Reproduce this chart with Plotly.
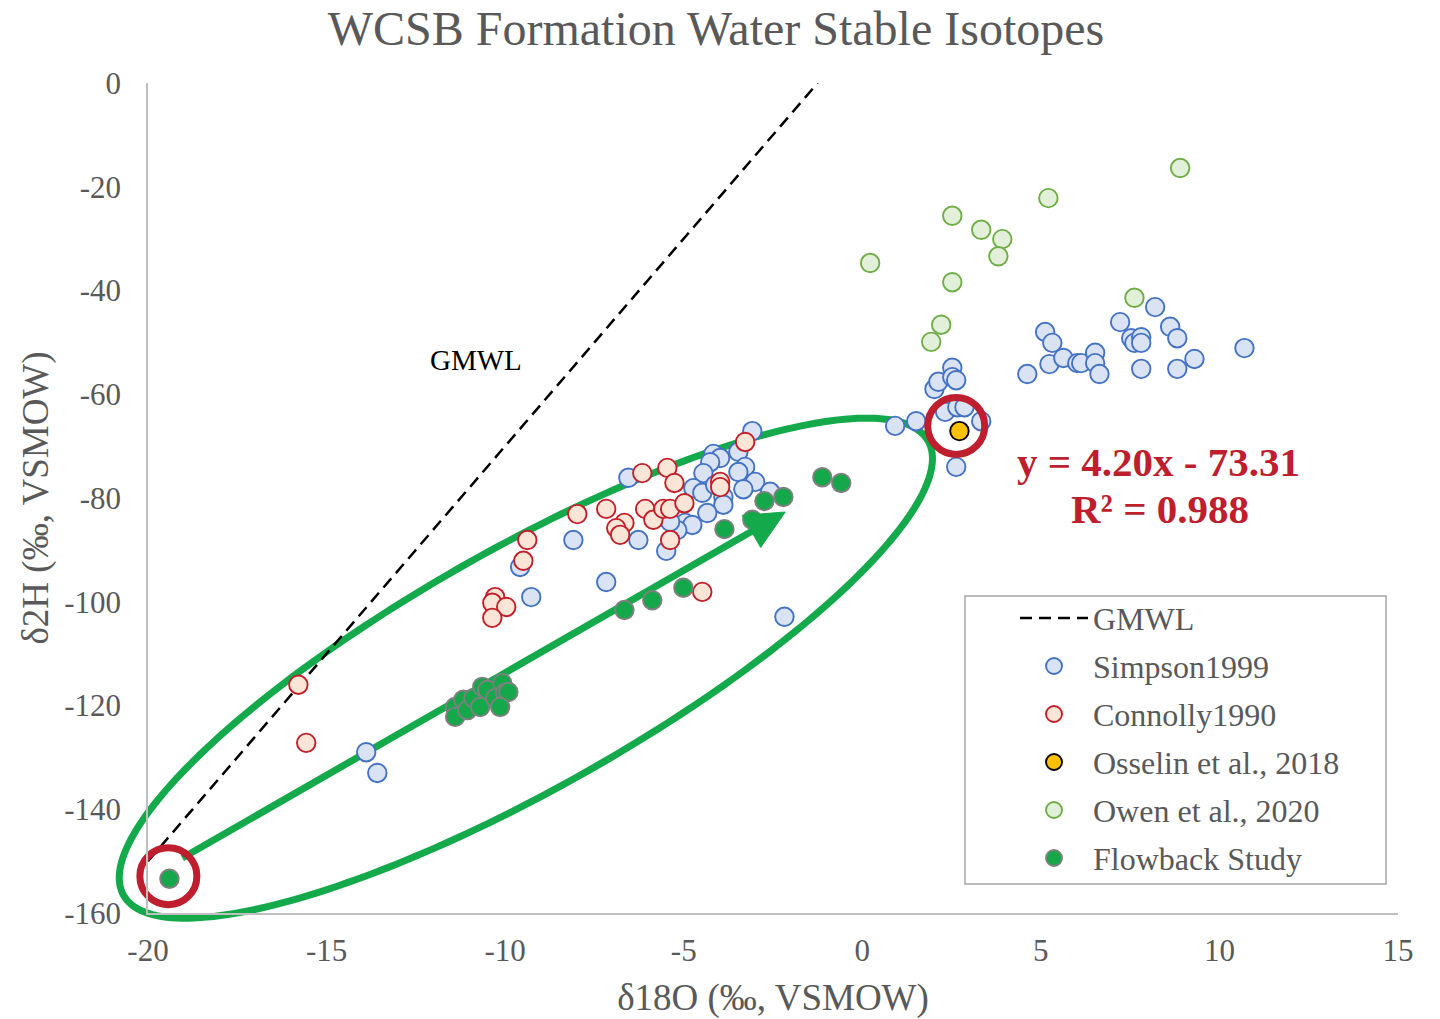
import math
import plotly.graph_objects as go

# ---------------- data ----------------
simpson_x = [-13.89, -13.58, -9.58, -9.27, -8.09, -7.17, -6.55, -6.27, -5.49, -3.08, -2.18,
             -4.17, -3.98, -4.26, -3.47, -3.28, -3.47, -4.45, -3.00, -2.58, -4.73, -4.48,
             -3.89, -3.89, -4.34, -4.96, -4.76, -5.18, -5.38, -3.33, -4.12,
             0.92, 1.51, 2.02, 2.13, 2.52, 2.52, 2.63, 2.32, 2.66, 2.86, 3.33, 2.63,
             4.62, 5.12, 5.32, 5.24, 5.63, 6.02, 6.13, 6.52, 6.52, 6.64, 7.22, 7.53,
             7.62, 7.81, 7.81, 7.81, 8.20, 8.62, 8.82, 8.82, 9.30, 10.70]
simpson_y = [-129.0, -133.0, -93.3, -99.1, -88.1, -96.2, -76.1, -88.1, -90.2, -67.1, -102.9,
             -71.5, -72.3, -73.1, -71.1, -74.0, -75.0, -75.2, -76.9, -78.8, -78.1, -79.0,
             -79.8, -81.3, -82.9, -84.8, -85.2, -86.2, -84.6, -78.3, -77.5,
             -66.1, -65.2, -59.0, -57.6, -54.9, -56.7, -57.3, -63.4, -62.5, -62.5, -65.2, -74.0,
             -56.1, -48.0, -50.1, -54.2, -53.0, -54.0, -54.0, -52.0, -54.0, -56.1, -46.1, -49.2,
             -50.1, -49.0, -50.1, -55.1, -43.2, -47.0, -49.2, -55.1, -53.2, -51.1]

connolly_x = [-15.79, -15.57, -9.38, -9.49, -10.28, -10.36, -9.97, -10.36, -7.98, -7.17,
              -6.16, -5.46, -5.26, -6.66, -6.89, -6.78, -6.08, -5.85, -5.57, -5.38,
              -4.98, -3.98, -3.98, -5.38, -4.48, -3.28]
connolly_y = [-116.0, -127.2, -88.1, -92.1, -99.1, -100.2, -101.0, -103.1, -83.1, -82.1,
              -75.2, -74.2, -77.1, -84.8, -85.8, -87.1, -82.1, -84.2, -82.1, -82.1,
              -81.0, -76.9, -77.9, -88.1, -98.1, -69.2]

osselin_x = [2.72]
osselin_y = [-67.1]

owen_x = [0.22, 2.52, 3.33, 3.92, 3.81, 5.21, 8.90, 2.52, 2.21, 1.93, 7.62]
owen_y = [-34.7, -25.6, -28.3, -30.1, -33.4, -22.2, -16.4, -38.4, -46.6, -49.9, -41.4]

flowback_x = [-19.40, -11.40, -11.40, -11.17, -11.06, -10.89, -10.70, -10.64, -10.50, -10.28,
              -10.08, -10.00, -9.91, -10.14, -6.66, -5.88, -5.01, -3.86, -3.08, -2.74,
              -2.21, -1.12, -0.59]
flowback_y = [-153.4, -120.3, -122.2, -118.9, -120.9, -118.6, -120.3, -116.4, -117.0, -118.6,
              -115.7, -117.6, -117.4, -120.3, -101.6, -99.7, -97.3, -86.0, -84.2, -80.6,
              -79.8, -76.0, -77.1]

# Global Meteoric Water Line: d2H = 8 * d18O + 10
GMWL_SLOPE = 8.0
GMWL_INTERCEPT = 10.0
gmwl_x = [-20.0, -1.25]

x_tick_vals = [-20, -15, -10, -5, 0, 5, 10, 15]
x_tick_text = ["-20", "-15", "-10", "-5", "0", "5", "10", "15"]
y_tick_vals = [0, -20, -40, -60, -80, -100, -120, -140, -160]
y_tick_text = ["0", "-20", "-40", "-60", "-80", "-100", "-120", "-140", "-160"]

fit_text_1 = "y = 4.20x - 73.31"
fit_text_2 = "R² = 0.988"

# ---------------- annotation geometry ----------------
ELL_CENTER = (-9.42, -112.8)      # data units
ELL_A_PX, ELL_B_PX, ELL_ANGLE = 462.0, 120.0, 29.45
ARROW_TAIL = (-19.04, -149.4)
ARROW_TIP = (-2.156, -82.70)
HEAD_LEN_PX, HEAD_W_PX = 39.0, 37.0
ring_x = [2.63, -19.43]
ring_y = [-66.1, -152.9]

# ---------------- layout constants ----------------
W, H = 1440, 1019
ML, MT = 148, 83
MR, MB = W - 1398, H - 913
X_RANGE = [-20, 15]
Y_RANGE = [-160, 0]
PLOT_W = W - ML - MR
PLOT_H = H - MT - MB
PX_X = PLOT_W / (X_RANGE[1] - X_RANGE[0])
PX_Y = PLOT_H / (Y_RANGE[1] - Y_RANGE[0])


def to_paper(x, y):
    return ((x - X_RANGE[0]) / (X_RANGE[1] - X_RANGE[0]),
            (y - Y_RANGE[0]) / (Y_RANGE[1] - Y_RANGE[0]))


def path_from(points, close=False):
    s = "M " + " L ".join("%.5f,%.5f" % to_paper(px, py) for px, py in points)
    return s + (" Z" if close else "")


GREEN = "#14AA4B"
RED = "#BE1E2D"
GRAY_TXT = "#595959"
FONT = "Liberation Serif, Times New Roman, serif"

fig = go.Figure()

# ellipse (hand-drawn highlight) as an unclipped paper shape
th = math.radians(ELL_ANGLE)
ell_pts = []
for i in range(240):
    t = 2 * math.pi * i / 240
    dx = ELL_A_PX * math.cos(t) * math.cos(th) - ELL_B_PX * math.sin(t) * math.sin(th)
    dy = ELL_A_PX * math.cos(t) * math.sin(th) + ELL_B_PX * math.sin(t) * math.cos(th)
    ell_pts.append((ELL_CENTER[0] + dx / PX_X, ELL_CENTER[1] + dy / PX_Y))
fig.add_shape(type="path", xref="paper", yref="paper", layer="below",
              path=path_from(ell_pts, close=True), line=dict(color=GREEN, width=7))

# arrow
dxp = (ARROW_TIP[0] - ARROW_TAIL[0]) * PX_X
dyp = (ARROW_TIP[1] - ARROW_TAIL[1]) * PX_Y
L = math.hypot(dxp, dyp)
ux, uy = dxp / L, dyp / L
base = (ARROW_TIP[0] - ux * HEAD_LEN_PX / PX_X, ARROW_TIP[1] - uy * HEAD_LEN_PX / PX_Y)
line_end = (ARROW_TIP[0] - ux * (HEAD_LEN_PX - 3) / PX_X,
            ARROW_TIP[1] - uy * (HEAD_LEN_PX - 3) / PX_Y)
fig.add_shape(type="path", xref="paper", yref="paper", layer="below",
              path=path_from([ARROW_TAIL, line_end]), line=dict(color=GREEN, width=7))
perp = (-uy * HEAD_W_PX / 2, ux * HEAD_W_PX / 2)
head = [ARROW_TIP,
        (base[0] + perp[0] / PX_X, base[1] + perp[1] / PX_Y),
        (base[0] - perp[0] / PX_X, base[1] - perp[1] / PX_Y)]
fig.add_shape(type="path", xref="paper", yref="paper", layer="above",
              path=path_from(head, close=True), fillcolor=GREEN,
              line=dict(color=GREEN, width=1))

# GMWL
fig.add_trace(go.Scatter(x=gmwl_x, y=[GMWL_SLOPE * v + GMWL_INTERCEPT for v in gmwl_x],
                         mode="lines", name="GMWL", legendgroup="g1",
                         line=dict(color="black", width=2.5, dash="12px,7px"), legendrank=1))

mk = dict(size=18.5)
series = [
    ("Simpson1999", simpson_x, simpson_y, "#DAE3F3", "#4472C4"),
    ("Connolly1990", connolly_x, connolly_y, "#FBE5D6", "#C41E2A"),
    ("Osselin et al., 2018", osselin_x, osselin_y, "#FFC000", "#000000"),
    ("Owen et al., 2020", owen_x, owen_y, "#E2F0D9", "#70AD47"),
    ("Flowback Study", flowback_x, flowback_y, "#14A84A", "#7F7F7F"),
]
for k, (name, xs, ys, fill, edge) in enumerate(series):
    fig.add_trace(go.Scatter(x=xs, y=ys, mode="markers", name=name, legendgroup="g%d" % (k + 2),
                             marker=dict(**mk, color=fill, line=dict(color=edge, width=1.9)),
                             legendrank=k + 2, cliponaxis=False))

# red rings
fig.add_trace(go.Scatter(x=ring_x, y=ring_y, mode="markers", showlegend=False, hoverinfo="skip",
                         cliponaxis=False,
                         marker=dict(symbol="circle-open", size=57, color=RED,
                                     line=dict(color=RED, width=7))))

axis_common = dict(showgrid=False, zeroline=False, showline=True, linecolor="#BFBFBF",
                   linewidth=1.5, ticks="", automargin=False,
                   tickfont=dict(family=FONT, size=31, color=GRAY_TXT))

fig.update_layout(
    width=W, height=H,
    margin=dict(l=ML, r=MR, t=MT, b=MB, pad=0, autoexpand=False),
    paper_bgcolor="white", plot_bgcolor="white",
    title=dict(text="WCSB Formation Water Stable Isotopes", x=716 / W, xref="container",
               y=1 - 28 / H, yref="container", xanchor="center", yanchor="middle",
               font=dict(family=FONT, size=48, color=GRAY_TXT)),
    xaxis=dict(range=X_RANGE, tickvals=x_tick_vals, ticktext=x_tick_text,
               ticklabelstandoff=9,
               title=dict(text="δ18O (‰, VSMOW)", standoff=18,
                          font=dict(family=FONT, size=37, color=GRAY_TXT)),
               **axis_common),
    yaxis=dict(range=Y_RANGE, tickvals=y_tick_vals, ticktext=y_tick_text,
               ticklabelstandoff=19,
               title=dict(text="δ2H (‰, VSMOW)", standoff=4,
                          font=dict(family=FONT, size=37, color=GRAY_TXT)),
               **axis_common),
    legend=dict(x=(1015 - 148) / PLOT_W, y=0.3883,
                xanchor="left", yanchor="top", bgcolor="rgba(0,0,0,0)", borderwidth=0,
                itemwidth=68, font=dict(family=FONT, size=32, color=GRAY_TXT),
                tracegroupgap=3.4),
    showlegend=True,
)

# legend frame
fig.add_shape(type="rect", xref="paper", yref="paper", layer="below",
              x0=(965 - 148) / PLOT_W, x1=(1386 - 148) / PLOT_W,
              y0=(913 - 884) / PLOT_H, y1=(913 - 596) / PLOT_H,
              line=dict(color="#A6A6A6", width=1.5), fillcolor="white")

fig.add_annotation(x=-10.81, y=-53.4, text="GMWL", showarrow=False,
                   font=dict(family=FONT, size=29, color="black"))
fig.add_annotation(x=8.29, y=-73.1, text="<b>" + fit_text_1 + "</b>", showarrow=False,
                   font=dict(family=FONT, size=41, color=RED))
fig.add_annotation(x=8.34, y=-82.1, text="<b>" + fit_text_2 + "</b>", showarrow=False,
                   font=dict(family=FONT, size=41, color=RED))

fig.write_html("out.html", config={"displayModeBar": False},
               post_script="document.body.style.margin='0px';")
